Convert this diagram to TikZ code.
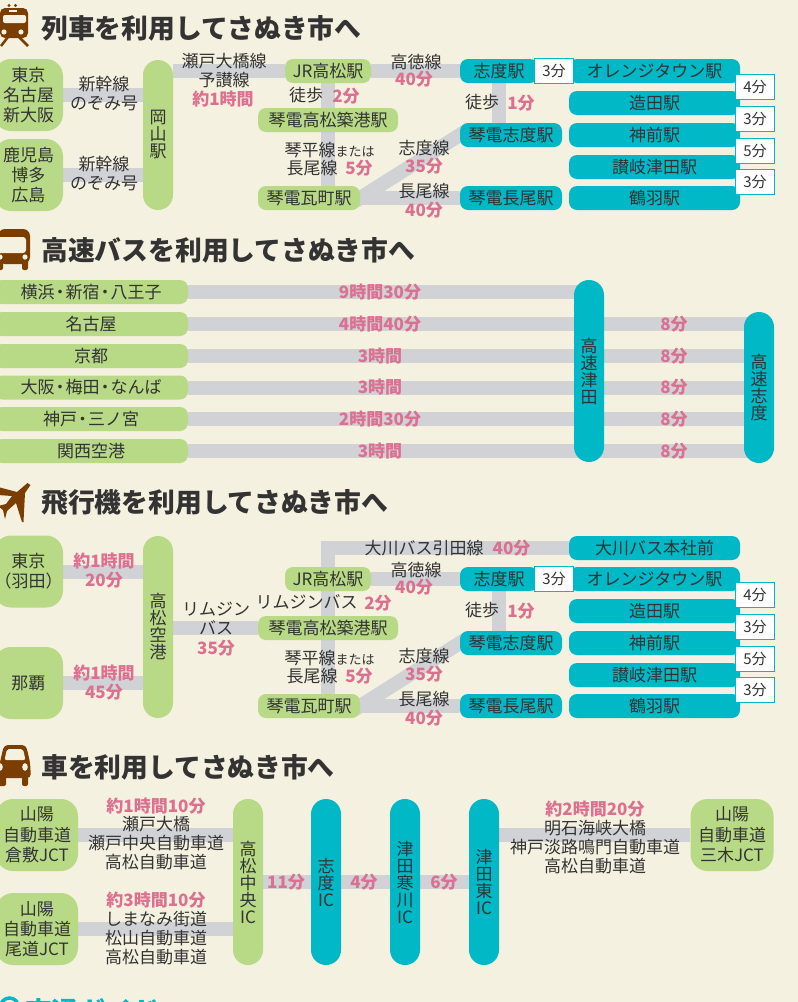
\documentclass[tikz,border=0pt]{standalone}
\usepackage{fontspec}
\usepackage{xcolor}
\usetikzlibrary{backgrounds}
\setmainfont{Noto Sans CJK JP}
\definecolor{paper}{HTML}{f5f1e0}
\definecolor{stopgreen}{HTML}{b8d986}
\definecolor{stopteal}{HTML}{00b8c6}
\definecolor{trackgray}{HTML}{d0d2d6}
\definecolor{minpink}{HTML}{dc7090}
\definecolor{iconbrown}{HTML}{7a3e00}
\definecolor{ink}{HTML}{333333}
\tikzset{
  label/.style={text=ink,inner sep=0,align=center,font=\fontsize{17}{19}\selectfont},
  mins/.style={text=minpink,inner sep=0,align=center,font=\fontsize{17}{19}\selectfont\bfseries},
  heading/.style={text=ink,inner sep=0,anchor=west,font=\fontsize{26.8}{28}\selectfont\bfseries},
  stopbar/.style={text=ink,inner sep=0,align=center,rounded corners=8pt,minimum height=24pt,
    font=\fontsize{17}{19}\selectfont},
  greenbar/.style={stopbar,fill=stopgreen},
  tealbar/.style={stopbar,fill=stopteal},
  block/.style={greenbar,rounded corners=17pt,minimum height=72pt,font=\fontsize{17}{20.3}\selectfont},
  pill/.style={stopbar,rounded corners=15pt,minimum width=30pt,font=\fontsize{17}{17}\selectfont},
  timebox/.style={draw=stopteal,line width=1.4pt,fill=white,text=ink,inner sep=0,
    minimum width=38.5pt,minimum height=24.5pt,font=\fontsize{15}{17}\selectfont},
  track/.style={draw=trackgray,line width=14pt},
  icon/.style={fill=iconbrown,draw=none}
}
\begin{document}
\begin{tikzpicture}[x=1pt,y=-1pt]
\path[use as bounding box] (0,0) rectangle (798,1002);
\begin{scope}[on background layer]
\fill[paper] (0,0) rectangle (798,1002);
\end{scope}

% train
\node[heading] (traintitle) at (41,28) {列車を利用してさぬき市へ};
\fill[icon,rounded corners=5pt] (0,8) rectangle (28,38);
\fill[paper,rounded corners=2pt] (3,15) rectangle (26,23);
\fill[paper] (9,10) rectangle (17,12);
\fill[icon] (9,5.5) circle (1.6) (15.5,5.5) circle (1.6);
\fill[paper] (4,32) circle (2.6) (21,32) circle (2.6);
\draw[iconbrown,line width=2.5pt] (8,37) -- (1,46) (19,37) -- (28,46);
\node[block,minimum width=69pt] (tokyo) at (28.5,95) {東京\\名古屋\\新大阪};
\node[block,minimum width=69pt] (kagoshima) at (28.5,175) {鹿児島\\博多\\広島};
\node[greenbar,pill,minimum height=150pt] (okayama) at (158,135) {岡\\山\\駅};
\node[label] (shinkana) at (104,94) {新幹線\\のぞみ号};
\node[label] (shinkanb) at (104,174) {新幹線\\のぞみ号};
\node[label] (seto) at (224,70.5) {瀬戸大橋線\\予讃線};
\node[mins] (setotime) at (223,99) {約1時間};
\node[label] (walka) at (306,95) {徒歩};
\node[mins] (walkatime) at (346,96) {2分};

% shared station block
\foreach \dy/\sec in {0/a,508/c}{
\begin{scope}[shift={(0,\dy)}]
\node[greenbar,minimum width=86pt] (jr\sec) at (328,71) {JR高松駅};
\node[greenbar,minimum width=140pt] (chikko\sec) at (328,120) {琴電高松築港駅};
\node[greenbar,minimum width=102pt] (kawara\sec) at (309,198) {琴電瓦町駅};
\node[tealbar,minimum width=78pt] (shido\sec) at (499,71) {志度駅};
\node[tealbar,minimum width=102pt] (kotoshido\sec) at (511,135) {琴電志度駅};
\node[tealbar,minimum width=102pt] (nagao\sec) at (511,198) {琴電長尾駅};
\node[tealbar,minimum width=171pt] (orange\sec) at (654.5,71) {オレンジタウン駅};
\node[tealbar,minimum width=171pt] (zouda\sec) at (654.5,103) {造田駅};
\node[tealbar,minimum width=171pt] (kanzaki\sec) at (654.5,135) {神前駅};
\node[tealbar,minimum width=171pt] (tsuda\sec) at (654.5,167) {讃岐津田駅};
\node[tealbar,minimum width=171pt] (tsuruwa\sec) at (654.5,198) {鶴羽駅};
\node[timebox] (threea\sec) at (554,71) {3分};
\node[timebox] (four\sec) at (755,87) {4分};
\node[timebox] (threeb\sec) at (755,119) {3分};
\node[timebox] (five\sec) at (755,151) {5分};
\node[timebox] (threec\sec) at (755,182) {3分};
\node[label] (kotoku\sec) at (416,62) {高徳線};
\node[mins] (kotokutime\sec) at (414,79) {40分};
\node[label] (walkb\sec) at (482,102) {徒歩};
\node[mins] (walkbtime\sec) at (521,103) {1分};
\node[label] (kotohira\sec) at (329.5,150) {琴平線{\fontsize{13}{13}\selectfont または}};
\node[label] (nagaoline\sec) at (312,168) {長尾線};
\node[mins] (nagaotime\sec) at (359,168) {5分};
\node[label] (shidoline\sec) at (424,148) {志度線};
\node[mins] (shidotime\sec) at (424,166) {35分};
\node[label] (nagaolineb\sec) at (424,191) {長尾線};
\node[mins] (nagaotimeb\sec) at (424,210) {40分};
\begin{scope}[on background layer]
\draw[track] (jr\sec) -- (shido\sec);
\draw[track] (jr\sec) -- (jr\sec |- kawara\sec.north);
\draw[track] (shido\sec) -- (shido\sec |- kotoshido\sec.north);
\draw[track] (kawara\sec) -- (nagao\sec);
\draw[track,shorten <=-6pt,shorten >=-6pt] (kawara\sec.east) -- (kotoshido\sec.west);
\end{scope}
\end{scope}
}
\begin{scope}[on background layer]
\draw[track] (tokyo) -- (okayama.west |- tokyo);
\draw[track] (kagoshima) -- (okayama.west |- kagoshima);
\draw[track] (okayama.east |- jra) -- (jra);
\end{scope}

% bus
\node[heading] (bustitle) at (41,250) {高速バスを利用してさぬき市へ};
\fill[icon,rounded corners=7pt] (-2,229) rectangle (30,264);
\fill[paper,rounded corners=3pt] (-3,237) rectangle (26,253);
\fill[paper] (0,257) circle (2.6) (25,257) circle (2.6);
\fill[icon,rounded corners=2pt] (-2,260) rectangle (3,270) (22,260) rectangle (28,270);
\node[tealbar,pill,minimum height=182pt] (bustsuda) at (589,371) {高\\速\\津\\田};
\node[tealbar,pill,minimum height=151pt] (busshido) at (759,387.5) {高\\速\\志\\度};
\foreach \rowy/\rowtext/\rowtime [count=\i] in {
  292/{横浜\kern-3pt・\kern-3pt新宿\kern-3pt・\kern-3pt八王子}/9時間30分,
  324/名古屋/4時間40分,
  356/京都/3時間,
  387.5/{大阪\kern-3pt・\kern-3pt梅田\kern-3pt・\kern-3ptなんば}/3時間,
  419/{神戸\kern-3pt・\kern-3pt三ノ宮}/2時間30分,
  451/関西空港/3時間}{
\node[greenbar,minimum width=194pt] (bus\i) at (91,\rowy) {\rowtext};
\node[mins] (bustime\i) at (380,\rowy) {\rowtime};
\begin{scope}[on background layer]
\draw[track] (bus\i) -- (bus\i -| bustsuda);
\end{scope}
}
\foreach \i in {2,...,6}{
\path (bus\i -| bustsuda) -- node[mins] (busmin\i) {8分} (bus\i -| busshido);
\begin{scope}[on background layer]
\draw[track] (bus\i -| bustsuda) -- (bus\i -| busshido);
\end{scope}
}

% plane
\node[heading] (planetitle) at (41,502) {飛行機を利用してさぬき市へ};
\fill[icon] (27.5,483) -- (30.5,485) -- (25,493) -- (23.5,522) -- (22,522) -- (16,503)
  -- (7,511) -- (5,519) -- (3,510) -- (-2,506) -- (6,504) -- (12,496) -- (-2,495) -- (-2,487)
  -- (17,492) -- cycle;
\node[block,minimum width=69pt] (haneda) at (28.5,571.5) {東京\\\kern-8pt（羽田）\kern-8pt};
\node[block,minimum width=69pt] (naha) at (28.5,683) {那覇};
\node[greenbar,pill,minimum height=182pt] (airport) at (158,627) {高\\松\\空\\港};
\node[mins] (hanedatime) at (104,570.5) {約1時間\\20分};
\node[mins] (nahatime) at (104,682.5) {約1時間\\45分};
\node[label] (limo) at (216,618) {リムジン\\バス};
\node[mins] (limotime) at (216,648) {35分};
\node[label] (limob) at (306.5,602) {リムジンバス};
\node[mins] (limobtime) at (378,603) {2分};
\node[tealbar,minimum width=171pt] (okawa) at (654.5,548) {大川バス本社前};
\node[label] (okawaline) at (424,548) {大川バス引田線};
\node[mins] (okawatime) at (511.5,548) {40分};
\begin{scope}[on background layer]
\draw[track] (haneda) -- (airport.west |- haneda);
\draw[track] (naha) -- (airport.west |- naha);
\draw[track] (airport.east |- chikkoc) -- (chikkoc);
\draw[track] (okawa) -| (jrc);
\end{scope}

% car
\node[heading] (cartitle) at (41,767) {車を利用してさぬき市へ};
\fill[icon,rounded corners=4pt] (4,745) -- (26,745) -- (30,762) -- (31,778) -- (-2,778) -- (0,762) -- cycle;
\fill[paper,rounded corners=2pt] (7,749) -- (23,749) -- (25.5,760) -- (4.5,760) -- cycle;
\fill[paper] (0,767) ellipse (2.8 and 3.8) (25,767) ellipse (2.8 and 3.8);
\fill[icon,rounded corners=2pt] (-2,774) rectangle (6,786) (22,774) rectangle (28,786);
\node[block,minimum width=82pt] (kurashiki) at (37,835) {山陽\\自動車道\\倉敷JCT};
\node[block,minimum width=82pt] (onomichi) at (37,929) {山陽\\自動車道\\尾道JCT};
\node[block,minimum width=83pt] (miki) at (732,835) {山陽\\自動車道\\三木JCT};
\node[greenbar,pill,minimum height=166pt] (chuo) at (248,882) {高\\松\\中\\央\\IC};
\node[tealbar,pill,minimum height=166pt] (shidoic) at (326,882) {志\\度\\IC};
\node[tealbar,pill,minimum height=166pt] (sangawa) at (405,882) {津\\田\\寒\\川\\IC};
\node[tealbar,pill,minimum height=166pt] (tsudahigashi) at (484,882) {津\\田\\東\\IC};
\node[mins] (kurashikitime) at (156,806) {約1時間10分};
\node[label] (kurashikiroute) at (156,843.5) {瀬戸大橋\\瀬戸中央自動車道\\高松自動車道};
\node[mins] (onomichitime) at (156,900) {約3時間10分};
\node[label] (onomichiroute) at (156,938) {しまなみ街道\\松山自動車道\\高松自動車道};
\node[mins] (mikitime) at (595,809) {約2時間20分};
\node[label] (mikiroute) at (595,847) {明石海峡大橋\\神戸淡路鳴門自動車道\\高松自動車道};
\node[mins] (elevenmin) at (286,882) {11分};
\node[mins] (fourmin) at (364,882) {4分};
\node[mins] (sixmin) at (444,882) {6分};
\begin{scope}[on background layer]
\draw[track] (kurashiki) -- (chuo.west |- kurashiki);
\draw[track] (onomichi) -- (chuo.west |- onomichi);
\draw[track] (chuo) -- (tsudahigashi);
\draw[track] (tsudahigashi.east |- miki) -- (miki);
\end{scope}

% next section, cut by the page edge
\node[heading,text=stopteal] (guidetitle) at (25,1011) {交通ガイド};
\draw[stopteal,line width=3.5pt] (9.5,1007) circle (9);
\end{tikzpicture}
\end{document}
